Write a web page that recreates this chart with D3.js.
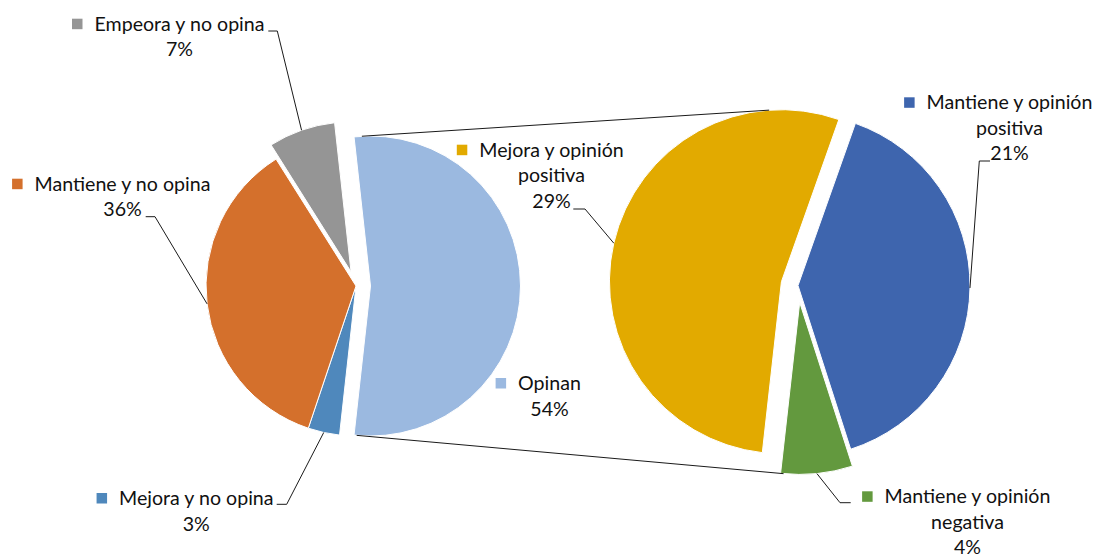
<!DOCTYPE html>
<html>
<head>
<meta charset="utf-8">
<script src="https://cdn.jsdelivr.net/npm/d3@7"></script>
<style>
  body { margin: 0; background: #fff; }
  text { font-family: Lato, "Noto Sans", sans-serif; }
</style>
</head>
<body>
<div id="chart"></div>
<script>
/**
 * Pie of pie: "Opinan" is broken down in the second pie
 */
const canvasWidth = 1094;
const canvasHeight = 554;

// first pie
const mainCategories = ["Opinan", "Mejora y no opina", "Mantiene y no opina", "Empeora y no opina"];
const mainValues = [53.5, 3.4, 35.9, 7.2];
const mainColors = ["#9bb9e0", "#4f88bc", "#d4702c", "#959595"];

// second pie, detail of "Opinan"
const subCategories = ["Mantiene y opinión positiva", "Mantiene y opinión negativa", "Mejora y opinión positiva"];
const subValues = [21.2, 3.6, 28.7];
const subColors = ["#3e65ae", "#63993e", "#e2aa00"];

// layout
const mainPos = { cx: 356, cy: 286, r: 150, explode: [14.5, 0, 0, 15] };
const subPos = { cx: 798, cy: 285.5, r: 172, explode: [0, 17, 17], start: 19.5 };
const mainLabelPos = [
  { x: 549.5, y: 390, leader: null },
  { x: 196.3, y: 505, leader: [[276.7, 504.3], [286.7, 504.3]] },
  { x: 122.5, y: 190.7, leader: [[145.7, 216.7], [155, 216.7]] },
  { x: 179.5, y: 30.7, leader: [[268.3, 31], [277.3, 31]] }
];
const subLabelPos = [
  { x: 1009.5, y: 109.3, leader: [[990, 161], [979.3, 161]] },
  { x: 967.5, y: 503.3, leader: [[850.7, 502.7], [840, 502.7]] },
  { x: 551.5, y: 156.7, leader: [[573.3, 209], [585, 209]] }
];
const lineHeight = 25.5;
const fontSize = 19.6;

const rad = deg => deg * Math.PI / 180;
const polar = (c, r, a) => [c[0] + r * Math.sin(a), c[1] - r * Math.cos(a)];

const svg = d3.select("#chart")
  .append("svg")
  .attr("width", canvasWidth)
  .attr("height", canvasHeight)
  .style("background", "#fff");

// the "Opinan" slice is centred on the right side
const mainTotal = d3.sum(mainValues);
const opinanAngle = 2 * Math.PI * mainValues[0] / mainTotal;
const mainStart = Math.PI / 2 - opinanAngle / 2;

const mainArcs = d3.pie().sort(null)
  .startAngle(mainStart).endAngle(mainStart + 2 * Math.PI)(mainValues);
const subArcs = d3.pie().sort(null)
  .startAngle(rad(subPos.start)).endAngle(rad(subPos.start) + 2 * Math.PI)(subValues);

function sliceCenter(pos, d, i) {
  const mid = (d.startAngle + d.endAngle) / 2;
  return polar([pos.cx, pos.cy], pos.explode[i], mid);
}

function drawPie(arcs, pos, colors) {
  const arc = d3.arc().innerRadius(0).outerRadius(pos.r);
  svg.append("g").selectAll("path")
    .data(arcs)
    .join("path")
    .attr("transform", (d, i) => "translate(" + sliceCenter(pos, d, i) + ")")
    .attr("d", arc)
    .attr("fill", (d, i) => colors[i])
    .attr("stroke", "#fff")
    .attr("stroke-width", 1);
}

drawPie(mainArcs, mainPos, mainColors);
drawPie(subArcs, subPos, subColors);

// connector lines between the two pies
const opinan = mainArcs[0];
const opinanC = sliceCenter(mainPos, opinan, 0);
const topSub = subArcs[2], bottomSub = subArcs[1];
const connectors = [
  [polar(opinanC, mainPos.r, opinan.startAngle + rad(3)),
   polar(sliceCenter(subPos, topSub, 2), subPos.r, rad(-4.1))],
  [polar(opinanC, mainPos.r, opinan.endAngle - rad(1)),
   polar(sliceCenter(subPos, bottomSub, 1), subPos.r, bottomSub.endAngle - rad(1))]
];
svg.append("g").selectAll("line")
  .data(connectors)
  .join("line")
  .attr("x1", d => d[0][0]).attr("y1", d => d[0][1])
  .attr("x2", d => d[1][0]).attr("y2", d => d[1][1])
  .attr("stroke", "#1a1a1a")
  .attr("stroke-width", 1);

// split long names before the last word
function wrapName(name) {
  if (name.indexOf("opinión") < 0) return [name];
  const k = name.lastIndexOf(" ");
  return [name.slice(0, k), name.slice(k + 1)];
}

function drawLabels(arcs, pos, cats, colors, labelPos) {
  arcs.forEach(function(d, i) {
    const lp = labelPos[i];
    const lines = wrapName(cats[i]).concat([Math.round(d.value) + "%"]);

    // leader line to the middle of the slice edge
    if (lp.leader) {
      const mid = (d.startAngle + d.endAngle) / 2;
      const end = polar(sliceCenter(pos, d, i), pos.r, mid);
      svg.append("path")
        .attr("d", d3.line()(lp.leader.concat([end])))
        .attr("fill", "none")
        .attr("stroke", "#1a1a1a")
        .attr("stroke-width", 1);
    }

    const g = svg.append("g");
    const txt = g.selectAll("text")
      .data(lines)
      .join("text")
      .attr("x", lp.x)
      .attr("y", (l, j) => lp.y + j * lineHeight)
      .attr("text-anchor", "middle")
      .attr("font-size", fontSize)
      .attr("fill", "#111")
      .text(l => l);

    // legend key in front of the first line
    const w = txt.node().getComputedTextLength();
    g.append("rect")
      .attr("x", lp.x - w / 2 - 12 - 10.5)
      .attr("y", lp.y - 12)
      .attr("width", 10.5)
      .attr("height", 10.5)
      .attr("fill", colors[i]);
  });
}

drawLabels(mainArcs, mainPos, mainCategories, mainColors, mainLabelPos);
drawLabels(subArcs, subPos, subCategories, subColors, subLabelPos);
</script>
</body>
</html>
